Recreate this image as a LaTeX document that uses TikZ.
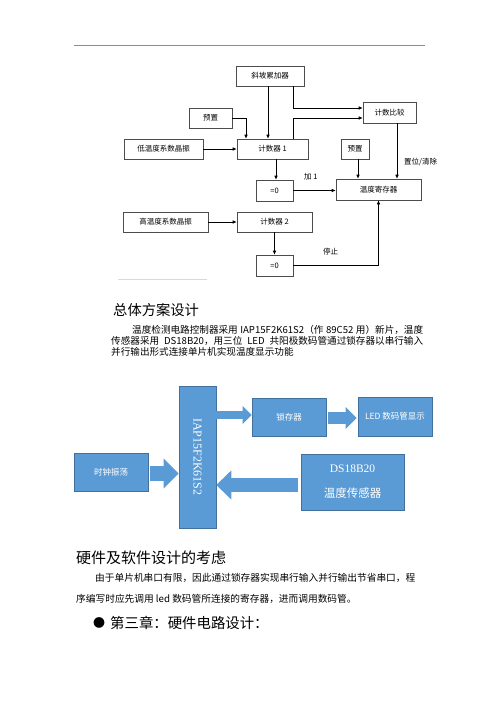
\documentclass[tikz,border=0pt]{standalone}
\usepackage{fontspec}
\usepackage{xcolor}
\usepackage{tikz}
\usetikzlibrary{positioning, calc, arrows.meta}
\newfontfamily\cjk{Noto Sans CJK SC}
\newfontfamily\tms{Liberation Serif}
\definecolor{boxblue}{HTML}{5B9BD5}
\definecolor{boxedge}{HTML}{41719C}
\XeTeXlinebreaklocale "zh"
\XeTeXlinebreakskip=0pt plus 1.5pt minus 0.4pt

\tikzset{
  flow/.style={draw=black!70, line width=0.6pt, inner sep=0pt, font=\cjk\fontsize{7.5}{8}\selectfont},
  link/.style={-{Latex[length=4pt,width=3.5pt]}, line width=0.6pt},
  tag/.style={inner sep=0pt, font=\cjk\fontsize{7.5}{8}\selectfont},
  blk/.style={fill=boxblue, draw=boxedge, line width=0.6pt, text=white, inner sep=0pt, align=center},
  fat/.style={draw=boxblue, line cap=butt},
  line/.style={inner sep=0pt, anchor=west}
}

\begin{document}
\begin{tikzpicture}[x=1pt, y=-1pt]
  \useasboundingbox[fill=white] (0,0) rectangle (500,707);

  %% header rule
  \draw[black!45, line width=1pt] (74,45.7) -- (425,45.7);

  %% counting scheme
  \node[flow, minimum width=68pt, minimum height=20pt] (acc) at (270,76) {斜坡累加器};
  \node[flow, minimum width=53pt, minimum height=21pt] (cmp) at (389.5,112.5) {计数比较};
  \node[flow, minimum width=43pt, minimum height=20pt] (pre1) at (210.5,118) {预置};
  \node[flow, minimum width=79pt, minimum height=20pt] (osc1) at (163.5,149) {低温度系数晶振};
  \node[flow, minimum width=71pt, minimum height=20pt] (cnt1) at (272.5,149) {计数器 1};
  \node[flow, minimum width=28pt, minimum height=20pt] (pre2) at (355,149) {预置};
  \node[flow, minimum width=37pt, minimum height=21pt] (zero1) at (274.5,190.5) {=0};
  \node[flow, minimum width=85pt, minimum height=21pt] (reg) at (378.5,189.5) {温度寄存器};
  \node[flow, minimum width=85pt, minimum height=20pt] (osc2) at (165.5,222) {高温度系数晶振};
  \node[flow, minimum width=75pt, minimum height=20pt] (cnt2) at (274.5,222) {计数器 2};
  \node[flow, minimum width=37pt, minimum height=21pt] (zero2) at (274.5,265.5) {=0};

  \draw[link] ([xshift=-2pt]acc.south) -- ([xshift=-2pt]acc.south |- cnt1.north);
  \draw[link] ([xshift=23pt]acc.south) |- ([yshift=4.5pt]cmp.west);
  \draw[link] ([xshift=20.5pt]cnt1.north) |- ([yshift=-5.5pt]cmp.west);
  \draw[link] (pre1.east) -| ([xshift=-26.5pt]cnt1.north);
  \draw[link] (osc1.east) -- (cnt1.west);
  \draw[link] ([xshift=7.5pt]cmp.south) -- ([xshift=7.5pt]cmp.south |- reg.north);
  \draw[link] ([xshift=3pt]pre2.south) -- ([xshift=3pt]pre2.south |- reg.north);
  \draw[link] ([xshift=1.5pt]zero1.north |- cnt1.south) -- ([xshift=1.5pt]zero1.north);
  \draw[link] (zero1.east) -- (zero1.east -| reg.west);
  \draw[link] (osc2.east) -- (cnt2.west);
  \draw[link] (zero2.north |- cnt2.south) -- (zero2.north);
  \draw[link] (zero2.east) -| (reg.south);

  \node[tag, anchor=west] (inc) at (304,177) {加 1};
  \node[tag, anchor=west] (halt) at (323,252) {停止};
  \node[tag, anchor=west] (rst) at (404,162) {置位/清除};

  \draw[black!15, line width=0.8pt] (118,279) -- (207,279);

  %% text
  \node[line, font=\cjk\fontsize{14.3}{15}\selectfont] (head1) at (113,310) {总体方案设计};
  \node[line, font=\cjk\fontsize{9.6}{10}\selectfont] (p1a) at (132,330)
    {\makebox[291pt][s]{温度检测电路控制器采用 IAP15F2K61S2（作 89C52 用）新片，温度}};
  \node[line, font=\cjk\fontsize{9.6}{10}\selectfont] (p1b) at (111,341)
    {\makebox[312pt][s]{传感器采用 DS18B20，用三位 LED 共阳极数码管通过锁存器以串行输入}};
  \node[line, font=\cjk\fontsize{9.6}{10}\selectfont] (p1c) at (111,351.5) {并行输出形式连接单片机实现温度显示功能};

  %% block diagram
  \node[blk, minimum width=37pt, minimum height=142pt] (iap) at (197.5,457) {};
  \node[inner sep=0pt, text=white, rotate=-90, font=\tms\fontsize{12}{12}\selectfont] (iapname) at (iap.center) {IAP15F2K61S2};
  \node[blk, minimum width=74pt, minimum height=38pt, font=\cjk\fontsize{8.5}{9}\selectfont] (latch) at (289,417) {锁存器};
  \node[blk, minimum width=74pt, minimum height=39pt, font=\cjk\fontsize{8.5}{9}\selectfont] (led) at (395,416.5) {LED 数码管显示};
  \node[blk, minimum width=74pt, minimum height=38pt, font=\cjk\fontsize{8.5}{9}\selectfont] (clk) at (111,472) {时钟振荡};
  \node[blk, minimum width=103pt, minimum height=56pt, font=\cjk\fontsize{11.5}{12}\selectfont] (ds) at (352.5,482)
    {{\tms DS18B20}\\[13pt]温度传感器};

  \draw[fat, line width=8pt, -{Triangle[width=18pt,length=9pt,line width=0pt]}]
    ([yshift=2pt]iap.east |- latch.west) -- ([yshift=2pt]latch.west);
  \draw[fat, line width=12pt, -{Triangle[width=22pt,length=11pt,line width=0pt]}]
    ([xshift=2pt,yshift=-1pt]latch.east) -- ([xshift=-1pt,yshift=-1pt]latch.east -| led.west);
  \draw[fat, line width=15pt, -{Triangle[width=30pt,length=15pt,line width=0pt]}]
    ([xshift=2pt,yshift=-1.5pt]clk.east) -- ([yshift=-1.5pt]clk.east -| iap.west);
  \draw[fat, line width=14pt, -{Triangle[width=29pt,length=15pt,line width=0pt]}]
    ([xshift=-3pt,yshift=-3pt]ds.west) -- ([yshift=-3pt]ds.west -| iap.east);

  %% text
  \node[line, font=\cjk\fontsize{15}{16}\selectfont] (head2) at (76,558) {硬件及软件设计的考虑};
  \node[line, font=\cjk\fontsize{9.7}{10}\selectfont] (p2a) at (95,578)
    {\makebox[320pt][s]{由于单片机串口有限，因此通过锁存器实现串行输入并行输出节省串口，程}};
  \node[line, font=\cjk\fontsize{9.7}{10}\selectfont] (p2b) at (76,599) {序编写时应先调用 led 数码管所连接的寄存器，进而调用数码管。};
  \node[line, font=\cjk\fontsize{12}{12}\selectfont] (dot) at (93,623) {●};
  \node[line, font=\cjk\fontsize{14.4}{15}\selectfont] (head3) at (110,623) {第三章：硬件电路设计：};
\end{tikzpicture}
\end{document}
